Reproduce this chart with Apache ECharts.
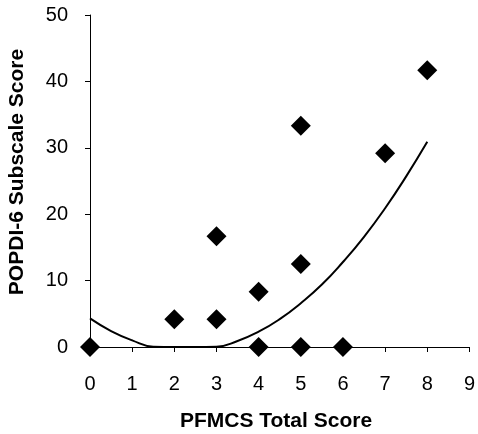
<!DOCTYPE html>
<html>
<head>
<meta charset="utf-8">
<script src="https://cdn.jsdelivr.net/npm/echarts@6/dist/echarts.min.js"></script>
<style>html,body{margin:0;padding:0;background:#fff}#c{width:478px;height:434px}</style>
</head>
<body>
<div id="c"></div>
<script>
// Observed points (PFMCS total score, POPDI-6 subscale score)
const pointX = [0, 2, 3, 3, 4, 4, 5, 5, 5, 6, 7, 8];
const pointY = [0, 4.17, 4.17, 16.67, 8.33, 0, 33.33, 12.5, 0, 0, 29.17, 41.67];
// Trend curve
const trendX = [0, 0.5, 1, 1.5, 2, 2.5, 3, 3.5, 4, 4.5, 5, 5.5, 6, 6.5, 7, 7.5, 8];
const trendY = [4.3, 2.4, 1.0, 0.05, 0, 0, 0.05, 0.9, 2.3, 4.2, 6.6, 9.4, 12.8, 16.6, 20.9, 25.7, 30.9];
const xTicks = [0, 1, 2, 3, 4, 5, 6, 7, 8, 9];
const yTicks = [0, 10, 20, 30, 40, 50];

const font = '"Liberation Sans", Arial, sans-serif';
const chart = echarts.init(document.getElementById('c'), null, {renderer: 'canvas'});
chart.setOption({
  animation: false,
  grid: {left: 90, right: 8, top: 15, bottom: 87, containLabel: false},
  xAxis: {
    type: 'value', min: xTicks[0], max: xTicks[xTicks.length - 1], interval: 1,
    splitLine: {show: false},
    axisLine: {show: true, onZero: false, lineStyle: {color: '#000', width: 1}},
    axisTick: {show: true, inside: false, length: 5, lineStyle: {color: '#000'}},
    axisLabel: {margin: 27, fontSize: 20, color: '#000', fontFamily: font}
  },
  yAxis: {
    type: 'value', min: yTicks[0], max: yTicks[yTicks.length - 1], interval: 10,
    splitLine: {show: false},
    axisLine: {show: true, onZero: false, lineStyle: {color: '#000', width: 1}},
    axisTick: {show: true, inside: false, length: 5, lineStyle: {color: '#000'}},
    axisLabel: {margin: 22, fontSize: 20, color: '#000', fontFamily: font}
  },
  graphic: [
    {type: 'text', x: 276, y: 421, style: {text: 'PFMCS Total Score', font: 'bold 21px ' + font, fill: '#000', align: 'center', verticalAlign: 'middle'}},
    {type: 'text', x: 17, y: 172, rotation: Math.PI / 2, style: {text: 'POPDI-6 Subscale Score', font: 'bold 21px ' + font, fill: '#000', align: 'center', verticalAlign: 'middle'}}
  ],
  series: [
    {
      type: 'line', smooth: true, showSymbol: false, clip: true, z: 2,
      lineStyle: {color: '#000', width: 2},
      data: trendX.map((x, i) => [x, trendY[i]])
    },
    {
      type: 'scatter', symbol: 'diamond', symbolSize: 20, z: 3, clip: false,
      itemStyle: {color: '#000', opacity: 1},
      data: pointX.map((x, i) => [x, pointY[i]])
    }
  ]
});
</script>
</body>
</html>
